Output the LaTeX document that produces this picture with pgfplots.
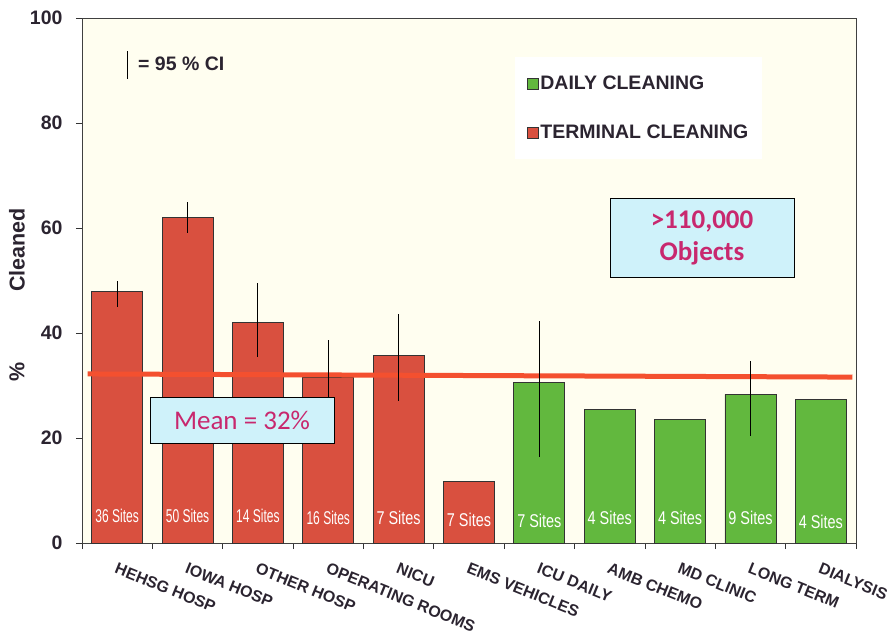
\documentclass[border=0pt]{standalone}
\usepackage{fontspec}
\setmainfont{Liberation Sans}
\newfontfamily\carlito{Carlito}
\usepackage{pgfplots}
\pgfplotsset{compat=1.18}
\definecolor{barred}{HTML}{D9503F}
\definecolor{bargreen}{HTML}{62B83E}
\definecolor{cream}{HTML}{FFFEF0}
\definecolor{meanred}{HTML}{F4502F}
\definecolor{boxcyan}{HTML}{CFF2FA}
\definecolor{magen}{HTML}{C8286E}
\definecolor{txt}{HTML}{2B2430}
\begin{document}
\begin{tikzpicture}
\useasboundingbox (-82pt,-87pt) rectangle (812pt,543pt);
\begin{axis}[
 at={(0,0)}, anchor=south west,
 scale only axis, width=774pt, height=525pt,
 xmin=-0.5, xmax=10.5, ymin=0, ymax=100,
 axis background/.style={fill=cream},
 axis line style={draw=black!75, line width=0.8pt},
 ytick={0,20,...,100},
 xtick={-0.5,0.5,...,10.5},
 xticklabels={,,,,,,,,,,,},
 extra x ticks={0,1,...,10},
 extra x tick labels={HEHSG HOSP, IOWA HOSP, OTHER HOSP, OPERATING ROOMS, NICU, EMS VEHICLES, ICU DAILY, AMB CHEMO, MD CLINIC, LONG TERM, DIALYSIS},
 extra x tick style={major tick length=0pt},
 tick pos=left, tick align=outside, major tick length=6pt,
 tick style={draw=black!80, line width=0.8pt},
 /pgf/number format/assume math mode=true,
 yticklabel style={font=\bfseries\fontsize{19.5}{22}\selectfont, text=txt, xshift=-10pt},
 xticklabel style={font=\bfseries\fontsize{16}{19}\selectfont, text=txt, rotate=-22, anchor=north west, inner sep=0pt, xshift=8pt, yshift=-17.6pt},
 legend cell align=left,
 legend style={at={(0.559,0.926)}, anchor=north west, fill=white, draw=none, font=\bfseries\fontsize{19.5}{22}\selectfont, text=txt, inner xsep=12pt, inner ysep=17pt, row sep=30pt},
]
\addplot[ybar, bar width=51pt, bar shift=0pt, fill=bargreen, draw=black!80, line width=0.8pt,
  legend image code/.code={\draw[fill=bargreen, draw=black!80, line width=0.5pt] (0pt,-5.5pt) rectangle (11pt,5.5pt);}]
  coordinates {(6,30.6)(7,25.5)(8,23.5)(9,28.3)(10,27.4)};
\addplot[ybar, bar width=51pt, bar shift=0pt, fill=barred, draw=black!80, line width=0.8pt,
  legend image code/.code={\draw[fill=barred, draw=black!80, line width=0.5pt] (0pt,-5.5pt) rectangle (11pt,5.5pt);}]
  coordinates {(0,48)(1,62)(2,42)(3,31.5)(4,35.7)(5,11.7)};
\legend{DAILY CLEANING, TERMINAL CLEANING}
\addplot[draw=meanred, line width=5pt, mark=none] coordinates {(-0.42,32.2) (10.45,31.6)};
\addplot[draw=none, mark=none, forget plot, error bars/.cd, y dir=both, y explicit, error mark=none,
  error bar style={draw=black, line width=0.9pt}]
  table[x=x, y=y, y error plus=ep, y error minus=em] {
x y ep em
0 48 2 3
1 62 3 3
2 42 7.5 6.6
3 31.5 7.2 6.5
4 35.7 7.9 8.7
6 30.6 11.7 14.3
9 28.3 6.4 7.9
};
\node[draw=black, line width=0.9pt, fill=boxcyan, minimum width=184pt, minimum height=46pt, inner sep=0pt, text=magen, font=\carlito\fontsize{27}{30}\selectfont] at (axis cs:1.774,23.4) {Mean = 32\%};
\node[draw=black, line width=0.9pt, fill=boxcyan, minimum width=184pt, minimum height=79pt, inner sep=0pt, text=magen, align=center, font=\carlito\bfseries\fontsize{27}{32}\selectfont] at (axis cs:8.312,58.2) {>110,000\\Objects};
\draw[black, line width=0.9pt] (axis cs:0.14,93.7) -- (axis cs:0.14,88.4);
\node[anchor=west, inner sep=0pt, font=\bfseries\fontsize{19.5}{22}\selectfont, text=txt] at (axis cs:0.296,91.2) {= 95 \% CI};
\node[text=white, font=\fontsize{18.5}{20}\selectfont] at (axis cs:0,5.2) {\scalebox{0.65}[1]{36 Sites}};
\node[text=white, font=\fontsize{18.5}{20}\selectfont] at (axis cs:1,5.2) {\scalebox{0.65}[1]{50 Sites}};
\node[text=white, font=\fontsize{18.5}{20}\selectfont] at (axis cs:2,5.1) {\scalebox{0.65}[1]{14 Sites}};
\node[text=white, font=\fontsize{18.5}{20}\selectfont] at (axis cs:3,4.8) {\scalebox{0.65}[1]{16 Sites}};
\node[text=white, font=\fontsize{18.5}{20}\selectfont] at (axis cs:4,4.8) {\scalebox{0.78}[1]{7 Sites}};
\node[text=white, font=\fontsize{18.5}{20}\selectfont] at (axis cs:5,4.4) {\scalebox{0.78}[1]{7 Sites}};
\node[text=white, font=\fontsize{18.5}{20}\selectfont] at (axis cs:6,4.3) {\scalebox{0.78}[1]{7 Sites}};
\node[text=white, font=\fontsize{18.5}{20}\selectfont] at (axis cs:7,4.8) {\scalebox{0.78}[1]{4 Sites}};
\node[text=white, font=\fontsize{18.5}{20}\selectfont] at (axis cs:8,4.8) {\scalebox{0.78}[1]{4 Sites}};
\node[text=white, font=\fontsize{18.5}{20}\selectfont] at (axis cs:9,4.8) {\scalebox{0.78}[1]{9 Sites}};
\node[text=white, font=\fontsize{18.5}{20}\selectfont] at (axis cs:10,4.1) {\scalebox{0.78}[1]{4 Sites}};
\end{axis}
\node[rotate=90, font=\bfseries\fontsize{21.5}{24}\selectfont, text=txt] at (-65pt,293pt) {Cleaned};
\node[rotate=90, font=\bfseries\fontsize{21.5}{24}\selectfont, text=txt] at (-65pt,171pt) {\%};
\end{tikzpicture}
\end{document}
